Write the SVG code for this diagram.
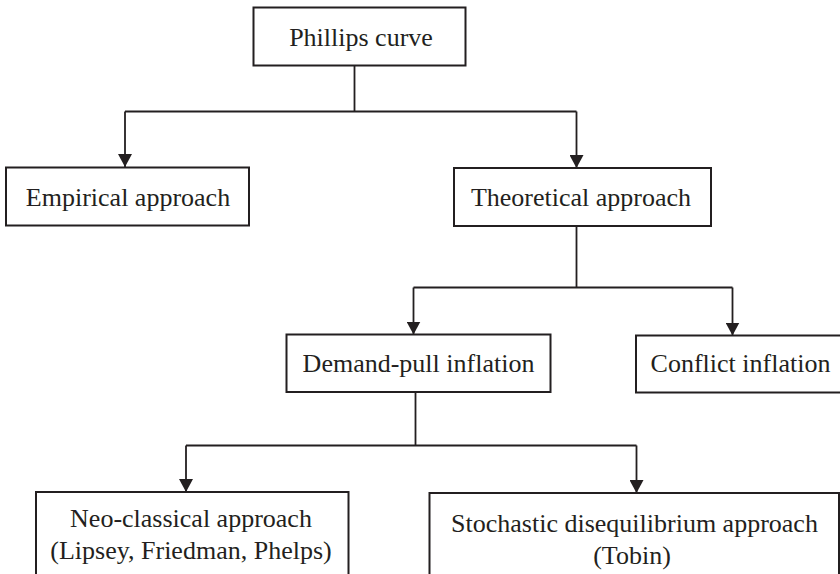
<svg xmlns="http://www.w3.org/2000/svg" width="840" height="574" viewBox="0 0 840 574">
<defs>
<style>
.box{fill:#fff;stroke:#231f20;stroke-width:2}
.ln{fill:none;stroke:#231f20;stroke-width:1.8}
.t{font-family:"Liberation Serif","Times New Roman","DejaVu Serif",serif;font-size:26px;fill:#231f20;text-anchor:middle}
</style>
<marker id="ah" viewBox="0 0 13 14" refX="13" refY="7" markerWidth="13" markerHeight="14" markerUnits="userSpaceOnUse" orient="auto">
<path d="M0,0 L13,7 L0,14 Z" fill="#231f20"/>
</marker>
</defs>
<rect width="840" height="574" fill="#fff"/>
<g id="connectors">
<path class="ln" d="M354.5,65.5 V111.5 M125,111.5 H576.5"/>
<line class="ln" x1="125" y1="111.5" x2="125" y2="167" marker-end="url(#ah)"/>
<line class="ln" x1="576.5" y1="111.5" x2="576.5" y2="168" marker-end="url(#ah)"/>
<path class="ln" d="M576.5,226 V287.5 M413.5,287.5 H732.5"/>
<line class="ln" x1="413.5" y1="287.5" x2="413.5" y2="334.5" marker-end="url(#ah)"/>
<line class="ln" x1="732.5" y1="287.5" x2="732.5" y2="335.5" marker-end="url(#ah)"/>
<path class="ln" d="M415.5,392 V445.5 M186,445.5 H636.5"/>
<line class="ln" x1="186" y1="445.5" x2="186" y2="492" marker-end="url(#ah)"/>
<line class="ln" x1="636.5" y1="445.5" x2="636.5" y2="493" marker-end="url(#ah)"/>
</g>
<g id="phillips">
<rect class="box" x="253.5" y="7.5" width="212" height="58"/>
<text class="t" x="361" y="45.5">Phillips curve</text>
</g>
<g id="empirical">
<rect class="box" x="6" y="167.5" width="243" height="58"/>
<text class="t" x="128" y="205.5">Empirical approach</text>
</g>
<g id="theoretical">
<rect class="box" x="454" y="168" width="257" height="58"/>
<text class="t" x="581" y="205.5">Theoretical approach</text>
</g>
<g id="demandpull">
<rect class="box" x="286.5" y="334.5" width="264" height="57.5"/>
<text class="t" x="418.5" y="372">Demand-pull inflation</text>
</g>
<g id="conflict">
<rect class="box" x="636" y="335.5" width="210" height="57"/>
<text class="t" x="740.5" y="371.5">Conflict inflation</text>
</g>
<g id="neoclassical">
<rect class="box" x="36" y="492" width="312.5" height="100"/>
<text class="t" x="191" y="526.5">Neo-classical approach</text>
<text class="t" x="191" y="559">(Lipsey, Friedman, Phelps)</text>
</g>
<g id="stochastic">
<rect class="box" x="429.5" y="493" width="409.5" height="100"/>
<text class="t" x="634.5" y="531.5">Stochastic disequilibrium approach</text>
<text class="t" x="632" y="564">(Tobin)</text>
</g>
</svg>
